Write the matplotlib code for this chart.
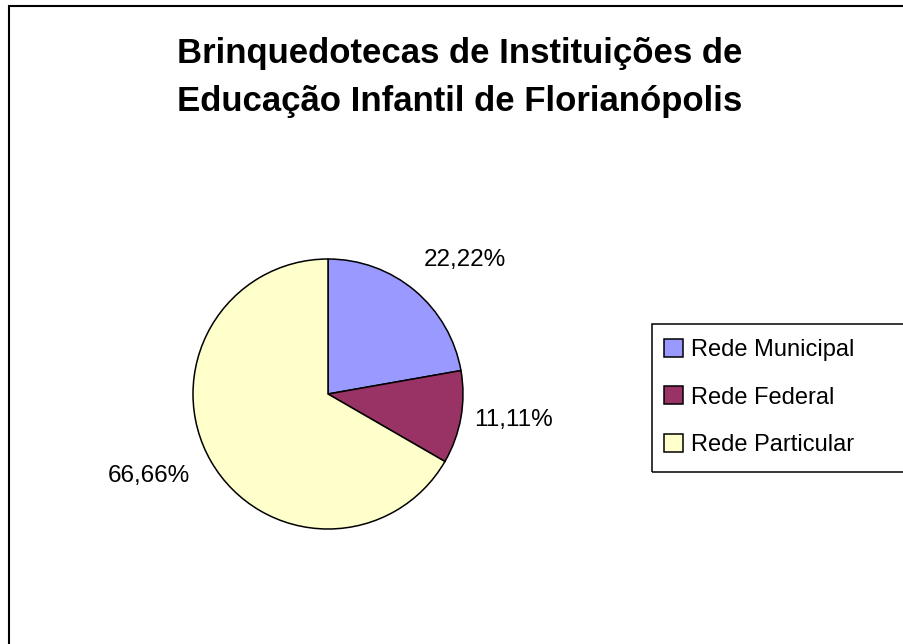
import numpy as np
import matplotlib
matplotlib.use("Agg")
import matplotlib.pyplot as plt
from matplotlib.patches import Rectangle

# data
redes = ["Rede Municipal", "Rede Federal", "Rede Particular"]
percentuais = [22.22, 11.11, 66.66]
cores = ["#9999FF", "#993366", "#FFFFCC"]
titulo_l1 = "Brinquedotecas de Instituições de"
titulo_l2 = "Educação Infantil de Florianópolis"

plt.rcParams["font.family"] = ["Liberation Sans", "DejaVu Sans"]

W, H = 904, 644
fig = plt.figure(figsize=(W / 100, H / 100), dpi=100)

def fx(x):
    return x / W

def fy(y):
    return 1 - y / H

# outer chart border (right / bottom run off the image)
fig.patches.append(Rectangle((fx(9), fy(1000)), 2.0, fy(6) - fy(1000),
                             transform=fig.transFigure, fill=False,
                             edgecolor="black", linewidth=1.5))

# title
fig.text(fx(460), fy(63), titulo_l1, ha="center", va="baseline",
         fontsize=25, fontweight="bold")
fig.text(fx(460), fy(111), titulo_l2, ha="center", va="baseline",
         fontsize=25, fontweight="bold")

# pie: centre (328, 394) px, radius 135 px
cx, cy, r = 328, 394, 135
ax = fig.add_axes([fx(cx - r), fy(cy + r), 2 * r / W, 2 * r / H])
rotulos = [f"{v:.2f}".replace(".", ",") + "%" for v in percentuais]
wedges, textos = ax.pie(percentuais, colors=cores, startangle=90, counterclock=False,
                        labels=rotulos, labeldistance=1.41,
                        wedgeprops=dict(edgecolor="black", linewidth=1.1),
                        textprops=dict(fontsize=17.5))
# label placement tweaks (angle offset in degrees, distance in radii)
desloc_ang = [-5.6, 2.1, -5.5]
dist = [1.415, 1.39, 1.46]
for w, t, da, d in zip(wedges, textos, desloc_ang, dist):
    ang = np.deg2rad((w.theta1 + w.theta2) / 2 + da)
    t.set_position((d * np.cos(ang), d * np.sin(ang)))
    t.set_ha("center")
    t.set_va("center")
ax.set_xlim(-1, 1)
ax.set_ylim(-1, 1)
ax.set_aspect("equal")
ax.axis("off")

# legend
fig.patches.append(Rectangle((fx(652), fy(472)), fx(1000) - fx(652), fy(324) - fy(472),
                             transform=fig.transFigure, fill=False,
                             edgecolor="black", linewidth=1.1))
fig.legend(wedges, redes, loc="upper left", bbox_to_anchor=(fx(664), fy(339)),
           frameon=False, fontsize=17, borderpad=0, borderaxespad=0,
           handlelength=0.8, handleheight=0.8, handletextpad=0.34,
           labelspacing=1.06)

fig.savefig("out.png", dpi=100)
